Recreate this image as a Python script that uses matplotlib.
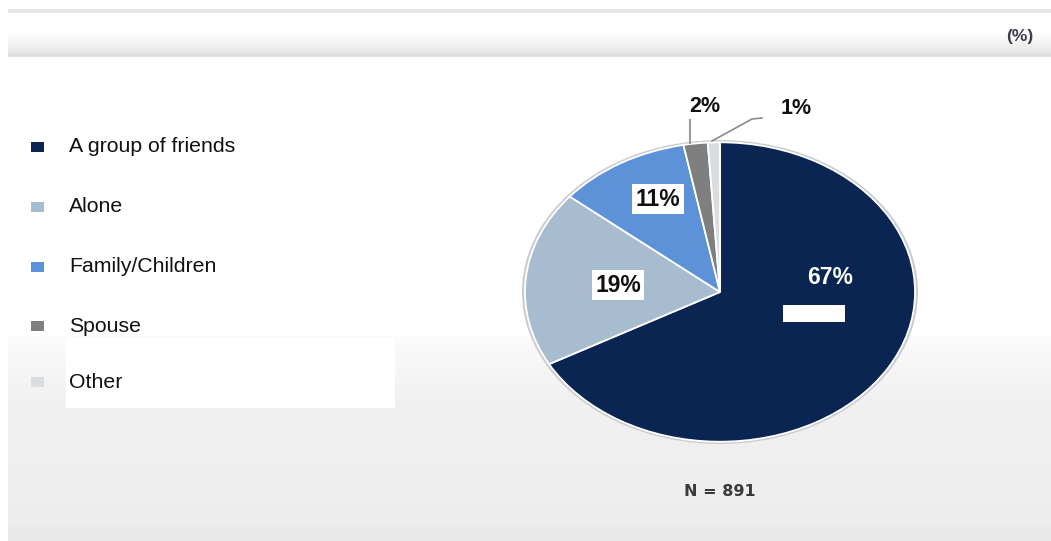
import numpy as np
import matplotlib
matplotlib.use("Agg")
import matplotlib.pyplot as plt
from matplotlib.patches import Rectangle

plt.rcParams['font.family'] = ['Liberation Sans', 'DejaVu Sans']

# ---- data ----
categories = ["A group of friends", "Alone", "Family/Children", "Spouse", "Other"]
values = [67, 19, 11, 2, 1]
labels = ["67%", "19%", "11%", "2%", "1%"]
colors = ["#0B2552", "#A8BCD0", "#5E92D8", "#7F7F7F", "#DADDE0"]
note = "N = 891"
unit = "(%)"

W, H = 1051, 541
fig = plt.figure(figsize=(W / 100, H / 100), dpi=100)

# ---- background axes in pixel coordinates ----
bg = fig.add_axes([0, 0, 1, 1])
bg.set_xlim(0, W)
bg.set_ylim(H, 0)
bg.axis('off')

def vgrad(y0, y1, c0, c1, x0=8, x1=W):
    g = np.linspace(c0, c1, 64).reshape(-1, 1)
    img = np.repeat(g[:, :, None], 3, axis=2)
    bg.imshow(img, extent=[x0, x1, y1, y0], aspect='auto', interpolation='bilinear', zorder=0)

vgrad(9, 13, 0.89, 0.91)
vgrad(34, 54, 0.995, 0.90)
vgrad(54, 57, 0.87, 0.88)
vgrad(336, 400, 0.985, 0.945)
vgrad(400, 527, 0.945, 0.93)
vgrad(527, 541, 0.915, 0.915)
bg.set_xlim(0, W)
bg.set_ylim(H, 0)

# white box behind lower legend entries
bg.add_patch(Rectangle((66, 338), 329, 70, facecolor='white', edgecolor='none', zorder=2))

# ---- legend ----
row_y = [147, 207, 267, 326, 382]
for cat, col, y in zip(categories, colors, row_y):
    bg.add_patch(Rectangle((31, y - 5), 13, 10, facecolor=col, edgecolor='none', zorder=3))
    bg.text(69, y, cat, fontsize=15.3, va='center', ha='left', color='#111111', zorder=4)

bg.text(1020, 37, unit, fontsize=12.5, fontweight='bold', ha='center', va='center',
        color='#3C3C4C', zorder=4)
bg.text(720, 491, note, fontsize=11.5, fontweight='bold', ha='center', va='center',
        color='#3A3A3A', family=['DejaVu Sans'], zorder=4)

# ---- pie (elliptical) ----
cx, cy, rx, ry = 720, 292, 198, 152
pax = fig.add_axes([(cx - rx) / W, (H - (cy + ry)) / H, 2 * rx / W, 2 * ry / H])
pax.pie([1], radius=1.0, colors=['#C9CCD2'], wedgeprops=dict(linewidth=0))
wedges, _ = pax.pie(values, colors=colors, startangle=90, counterclock=False, radius=0.985,
                    wedgeprops=dict(edgecolor='white', linewidth=1.3))
pax.set_aspect('auto')
pax.set_xlim(-1, 1)
pax.set_ylim(-1, 1)
pax.axis('off')

# ---- overlay for data labels ----
top = fig.add_axes([0, 0, 1, 1])
top.set_xlim(0, W)
top.set_ylim(H, 0)
top.axis('off')
top.patch.set_alpha(0)

top.text(830, 278, labels[0], fontsize=16.5, fontweight='bold', color='white',
         ha='center', va='center', zorder=6)
top.add_patch(Rectangle((783, 305), 62, 17, facecolor='white', edgecolor='none', zorder=6))
top.text(618, 285, labels[1], fontsize=16.5, fontweight='bold', color='#111111',
         ha='center', va='center', zorder=6,
         bbox=dict(boxstyle='square,pad=0.15', facecolor='white', edgecolor='none'))
top.text(658, 199, labels[2], fontsize=16.5, fontweight='bold', color='#111111',
         ha='center', va='center', zorder=6,
         bbox=dict(boxstyle='square,pad=0.15', facecolor='white', edgecolor='none'))
top.text(705, 106, labels[3], fontsize=15.5, fontweight='bold', color='#111111',
         ha='center', va='center', zorder=6)
top.text(796, 108, labels[4], fontsize=15.5, fontweight='bold', color='#111111',
         ha='center', va='center', zorder=6)
top.plot([690, 690], [120, 143], color='#9A9A9A', lw=1.5, zorder=5)
top.plot([712, 752, 762], [141, 119, 118], color='#8A8A8A', lw=1.2, zorder=5)

fig.savefig("out.png", dpi=100, facecolor='white')
